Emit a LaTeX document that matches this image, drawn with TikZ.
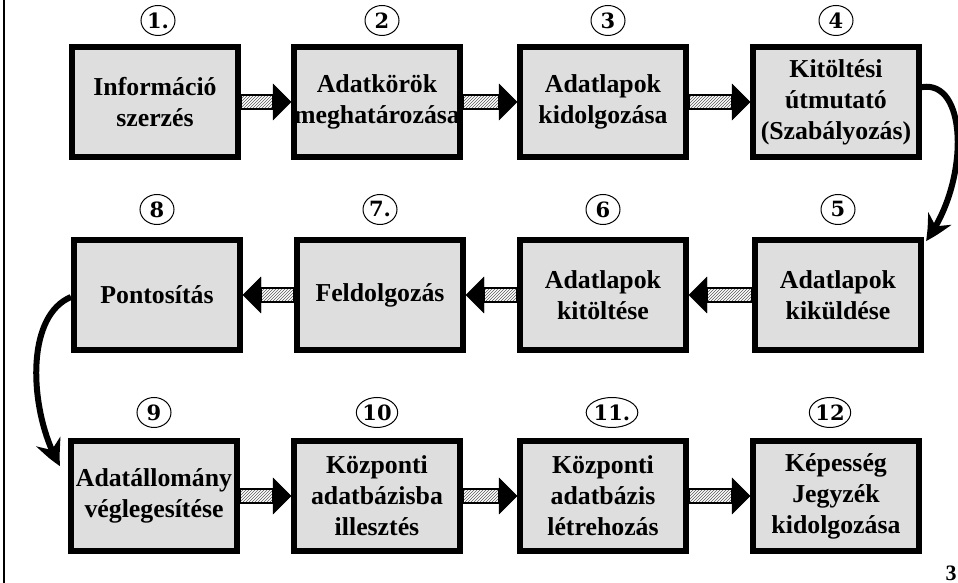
\documentclass[tikz,border=0pt]{standalone}
\usepackage{fontspec}
\setmainfont{Liberation Serif}
\newfontfamily\numfont{DejaVu Serif}
\usetikzlibrary{arrows.meta,bending,positioning,shapes,patterns,calc}

% hatched block arrow: start anchor, tip anchor, signed head length
\newcommand{\hatcharrow}[3]{%
\draw[shaft] ($(#1)+(0,-7)$) rectangle ($(#2)+(#3,7)$);
\filldraw ($(#2)+(#3,18)$) -- (#2) -- ($(#2)+(#3,-18)$) -- cycle;
}

\begin{document}
\begin{tikzpicture}[x=1pt,y=1pt,
every node/.style={font=\bfseries\fontsize{25.8}{31}\selectfont},
stepbox/.style={rectangle, draw, line width=6pt, fill=black!13, minimum width=166pt, minimum height=110pt, align=center, inner sep=0pt},
numlabel/.style={ellipse, draw, line width=1pt, minimum width=34pt, minimum height=30pt, inner sep=0pt, font=\numfont\bfseries\fontsize{21}{21}\selectfont},
shaft/.style={draw, line width=1.5pt, fill=white, pattern=north east lines, pattern color=black!65},
turn/.style={line width=6pt, -{Stealth[length=26pt,width=26pt,bend]}}
]
\useasboundingbox (0,0) rectangle (958,583);
\draw[line width=2pt] (4,0) -- (4,583);

\node[stepbox] (b1) at (155,481) {Információ\\szerzés};
\node[stepbox] (b2) at (377,481) {Adatkörök\\meghatározása};
\node[stepbox] (b3) at (603,481) {Adatlapok\\kidolgozása};
\node[stepbox] (b4) at (836,481) {Kitöltési\\útmutató\\(Szabályozás)};
\node[stepbox] (b5) at (838,288) {Adatlapok\\kiküldése};
\node[stepbox] (b6) at (603,288) {Adatlapok\\kitöltése};
\node[stepbox] (b7) at (380,288) {Feldolgozás};
\node[stepbox] (b8) at (157,288) {Pontosítás};
\node[stepbox] (b9) at (154,87) {Adatállomány\\véglegesítése};
\node[stepbox] (b10) at (377,87) {Központi\\adatbázisba\\illesztés};
\node[stepbox] (b11) at (603,87) {Központi\\adatbázis\\létrehozás};
\node[stepbox] (b12) at (836,87) {Képesség\\Jegyzék\\kidolgozása};

\node[numlabel, above=8pt of b1, xshift=3pt] (n1) {1.};
\node[numlabel, above=8pt of b2, xshift=5pt] (n2) {2};
\node[numlabel, above=8pt of b3, xshift=5pt] (n3) {3};
\node[numlabel, above=8pt of b4] (n4) {4};
\node[numlabel, above=12pt of b5] (n5) {5};
\node[numlabel, above=12pt of b6] (n6) {6};
\node[numlabel, above=12pt of b7] (n7) {7.};
\node[numlabel, above=12pt of b8] (n8) {8};
\node[numlabel, above=10pt of b9] (n9) {9};
\node[numlabel, above=10pt of b10] (n10) {10};
\node[numlabel, above=10pt of b11, xshift=9pt] (n11) {11.};
\node[numlabel, above=10pt of b12, xshift=-6pt] (n12) {12};

\hatcharrow{b1.east}{b2.west}{-18}
\hatcharrow{b2.east}{b3.west}{-18}
\hatcharrow{b3.east}{b4.west}{-18}
\hatcharrow{b5.west}{b6.east}{18}
\hatcharrow{b6.west}{b7.east}{18}
\hatcharrow{b7.west}{b8.east}{18}
\hatcharrow{b9.east}{b10.west}{-18}
\hatcharrow{b10.east}{b11.west}{-18}
\hatcharrow{b11.east}{b12.west}{-18}

\draw[turn] ([shift={(-4,14)}]b4.east) .. controls +(50,14) and +(45,60) .. ([shift={(2,-4)}]b5.north east);
\draw[turn] ([shift={(0,-2)}]b8.west) .. controls +(-48,-20) and +(-30,50) .. ([shift={(-8,30)}]b9.west);

\node[font=\bfseries\fontsize{22}{22}\selectfont] (page) at (951,10) {3};
\end{tikzpicture}
\end{document}
